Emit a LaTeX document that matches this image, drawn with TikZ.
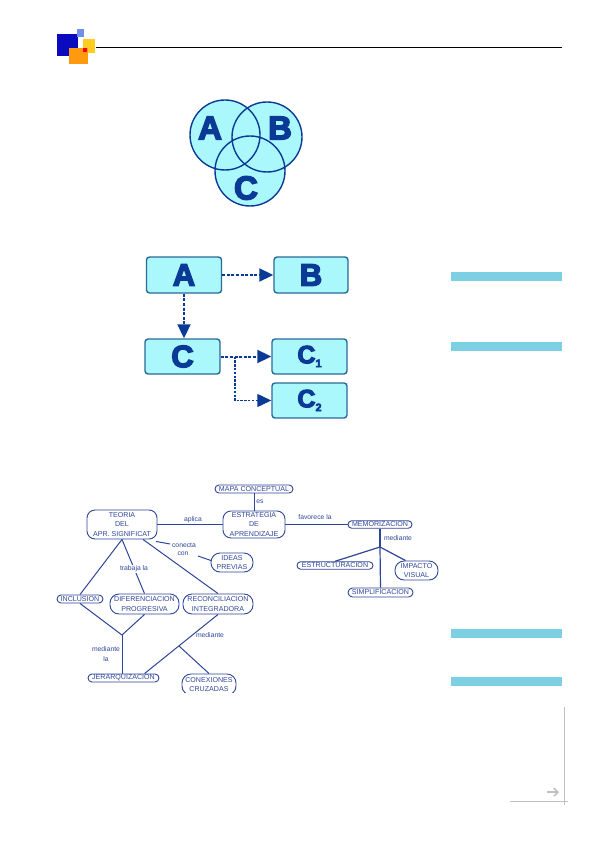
\documentclass[tikz,border=0pt]{standalone}
\usepackage{fontspec}
\setmainfont{Liberation Sans}
\newfontfamily\heavyfont[FakeBold=4.5]{Liberation Sans Bold}
\usetikzlibrary{arrows.meta,shapes.misc}
\definecolor{navy}{HTML}{0B3A96}
\definecolor{cfill}{HTML}{AAF8FB}
\definecolor{boxline}{HTML}{2A6A9A}
\definecolor{barc}{HTML}{7DCFE3}
\definecolor{mapc}{HTML}{2E4598}
\definecolor{greyc}{HTML}{C0C0C0}
\definecolor{logoblue}{HTML}{0A0ABE}
\definecolor{logolight}{HTML}{7090E8}
\definecolor{logoyellow}{HTML}{FFCC22}
\definecolor{logoorange}{HTML}{FF9A10}
\tikzset{
  venn/.style={circle,draw=navy,line width=1.4pt,minimum size=70pt,inner sep=0pt},
  bigletter/.style={text=navy,inner sep=0pt,font=\heavyfont\fontsize{33}{33}\selectfont},
  flowbox/.style={draw=boxline,fill=cfill,line width=1.4pt,rounded corners=3pt,inner sep=0pt,text=navy,font=\heavyfont\fontsize{31}{31}\selectfont},
  dashline/.style={draw=navy,line width=2pt,dash pattern=on 3pt off 1.6pt,-{Triangle[length=14pt,width=13pt,fill=navy]}},
  dashthin/.style={draw=navy,line width=1.2pt,dash pattern=on 2.4pt off 1.4pt},
  pill/.style={rounded rectangle,draw=mapc,line width=.9pt,inner sep=0pt,text=mapc,align=center,font=\fontsize{7.1}{9.3}\selectfont},
  rbox/.style={rectangle,rounded corners=8pt,draw=mapc,line width=.9pt,inner sep=0pt,text=mapc,align=center,font=\fontsize{7.1}{9.3}\selectfont},
  mapline/.style={draw=mapc,line width=1pt},
  maplabel/.style={text=mapc,inner sep=0pt,font=\fontsize{6.8}{8}\selectfont},
  bar/.style={fill=barc,draw=none},
  greyline/.style={draw=greyc,line width=1pt}
}
\begin{document}
\begin{tikzpicture}[x=1pt,y=-1pt]
\useasboundingbox (0,0) rectangle (595,842);
% logo
\fill[logoblue] (57,34) rectangle (78,56);
\fill[logolight] (77,29) rectangle (84,37);
\fill[logoyellow] (83,39) rectangle (95,53);
\fill[logoorange] (69,48) rectangle (88,64);
\fill[red] (83,48) rectangle (87,52);
\draw[black,line width=.9pt] (96,47) -- (562,47);
% venn
\fill[cfill] (225,135) circle (35pt) (267,137) circle (35pt) (250,171) circle (35pt);
\node[venn] (va) at (225,135) {};
\node[venn] (vb) at (267,137) {};
\node[venn] (vc) at (250,171) {};
\node[bigletter] (la) at (210,128) {A};
\node[bigletter] (lb) at (280,128) {B};
\node[bigletter] (lc) at (246,188) {C};
% flow
\node[flowbox,minimum width=75pt,minimum height=36pt] (A) at (184,275) {A};
\node[flowbox,minimum width=74pt,minimum height=36pt] (B) at (311,275) {B};
\node[flowbox,minimum width=75pt,minimum height=35pt] (C) at (182.5,356.5) {C};
\node[flowbox,minimum width=75pt,minimum height=35pt] (C1) at (309.5,356.5) {\raisebox{0pt}{\fontsize{25}{25}\selectfont C}\raisebox{-4pt}{\fontsize{11}{11}\selectfont 1}};
\node[flowbox,minimum width=75pt,minimum height=35pt] (C2) at (309.5,400.5) {\raisebox{0pt}{\fontsize{25}{25}\selectfont C}\raisebox{-4pt}{\fontsize{11}{11}\selectfont 2}};
\draw[dashline] (A) -- (B);
\draw[dashline] (A.south) -- (A.south |- C.north);
\draw[dashline] (C) -- (C1);
\coordinate (branch) at (235,356.5);
\draw[dashthin,-{Triangle[length=14pt,width=13pt,fill=navy]}] (branch) |- (C2);
% bars
\fill[bar] (451,272) rectangle (562,281);
\fill[bar] (451,342) rectangle (562,351);
\fill[bar] (451,629) rectangle (562,638);
\fill[bar] (451,677) rectangle (562,686);
% concept map
\begin{scope}
\clip (0,470) rectangle (595,692.5);
\node[rbox,minimum width=70pt,minimum height=29pt] (teoria) at (122,524.5) {TEORIA\\DEL\\APR. SIGNIFICAT};
\node[rbox,minimum width=62pt,minimum height=27pt] (estr) at (254,524.5) {ESTRATEGIA\\DE\\APRENDIZAJE};
\node[pill,minimum width=78pt,minimum height=8pt] (mapa) at (254,489) {MAPA CONCEPTUAL};
\node[pill,minimum width=64pt,minimum height=7.5pt] (memo) at (380,524.5) {MEMORIZACION};
\node[pill,minimum width=76pt,minimum height=7.5pt] (estc) at (335,565.5) {ESTRUCTURACION};
\node[rbox,rounded corners=9pt,minimum width=43pt,minimum height=19pt] (imp) at (416.5,570.5) {IMPACTO\\VISUAL};
\node[pill,minimum width=65pt,minimum height=9pt] (simp) at (380.5,592.5) {SIMPLIFICACION};
\node[rbox,rounded corners=9pt,minimum width=42pt,minimum height=19pt] (ideas) at (232,562.5) {IDEAS\\PREVIAS};
\node[pill,minimum width=46pt,minimum height=8pt] (incl) at (80,599) {INCLUSION};
\node[rbox,rounded corners=9pt,minimum width=69pt,minimum height=20pt] (dif) at (144.5,604) {DIFERENCIACION\\PROGRESIVA};
\node[rbox,rounded corners=9pt,minimum width=70pt,minimum height=20pt] (rec) at (218,604) {RECONCILIACION\\INTEGRADORA};
\node[pill,minimum width=71pt,minimum height=8pt] (jer) at (123.5,678) {JERARQUIZACION};
\node[rbox,rounded corners=9pt,minimum width=54pt,minimum height=21pt] (con) at (209,684.5) {CONEXIONES\\CRUZADAS};
\end{scope}
\coordinate (j1) at (122,635);
\coordinate (j2) at (179,646);
\coordinate (j3) at (380,547);
\coordinate (c1) at (170,544);
\coordinate (c2) at (198,556);
\draw[mapline] (teoria) -- (estr);
\draw[mapline] (estr) -- (memo);
\draw[mapline] (mapa.south) -- (estr.north);
\draw[mapline] (teoria.south) -- (incl.north);
\draw[mapline] (teoria.south) -- (dif.north);
\draw[mapline] ([xshift=21pt]teoria.south) -- (rec.north);
\draw[mapline] ([xshift=34pt,yshift=-2pt]teoria.south) -- (c1);
\draw[mapline] (c2) -- ([xshift=-21pt,yshift=2pt]ideas.center);
\draw[mapline] (incl.south) -- (j1);
\draw[mapline] (dif.south) -- (j1);
\draw[mapline] (j1) -- (jer.north -| j1);
\draw[mapline] (rec.south) -- ([xshift=21pt]jer.north);
\draw[mapline] (j2) -- (con.north);
\draw[mapline,line width=1.2pt] (memo.south) -- (j3);
\draw[mapline,line width=1.2pt] (j3) -- (estc.north);
\draw[mapline,line width=1.2pt] (j3) -- ([xshift=-11pt]imp.north);
\draw[mapline,line width=1.2pt] (j3) -- (simp.north);
\node[maplabel] (l1) at (193,520) {aplica};
\node[maplabel] (l2) at (260,502) {es};
\node[maplabel] (l3) at (315,517) {favorece la};
\node[maplabel] (l4) at (398,538) {mediante};
\node[maplabel,fill=white,inner ysep=1pt] (l5) at (134,569) {trabaja la};
\node[maplabel] (l6) at (184,545) {conecta};
\node[maplabel] (l7) at (183,554) {con};
\node[maplabel] (l8) at (106,649) {mediante};
\node[maplabel] (l9) at (106,659) {la};
\node[maplabel] (l10) at (210,635) {mediante};
% corner
\coordinate (cv1) at (564,707);
\coordinate (cv2) at (564,805);
\coordinate (ch1) at (510,801);
\coordinate (ch2) at (568,801);
\draw[greyline] (cv1) -- (cv2);
\draw[greyline] (ch1) -- (ch2);
\coordinate (ar1) at (547,792);
\coordinate (ar2) at (559,792);
\draw[draw=greyc,line width=1.6pt,-{Straight Barb[length=4pt,width=8pt]}] (ar1) -- (ar2);
\end{tikzpicture}
\end{document}
